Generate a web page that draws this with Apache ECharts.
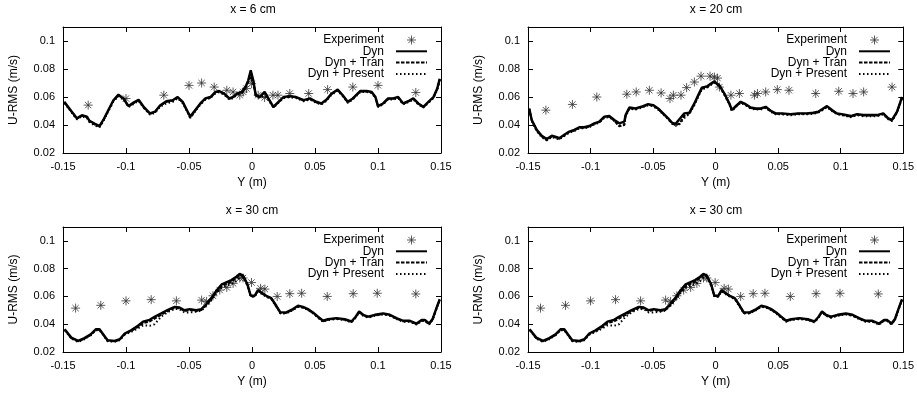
<!DOCTYPE html>
<html>
<head>
<meta charset="utf-8">
<script src="https://cdn.jsdelivr.net/npm/echarts@6/dist/echarts.min.js"></script>
<style>html,body{margin:0;padding:0;background:#fff}#c{width:917px;height:396px}</style>
</head>
<body>
<div id="c"></div>
<script>
// ---------- Data ----------
const panelTitles = ['x = 6 cm', 'x = 20 cm', 'x = 30 cm', 'x = 30 cm'];
const xTicks = [-0.15, -0.1, -0.05, 0, 0.05, 0.1, 0.15];
const yTicks = [0.02, 0.04, 0.06, 0.08, 0.1];
const seriesNames = ['Experiment', 'Dyn', 'Dyn + Tran', 'Dyn + Present'];

// Panel 1 : x = 6 cm
const p1Y = [-0.149,-0.143,-0.139,-0.135,-0.131,-0.129,-0.125,-0.121,-0.118,-0.114,-0.110,-0.106,-0.102,-0.098,-0.094,-0.090,-0.086,-0.081,-0.077,-0.073,-0.068,-0.063,-0.059,-0.055,-0.051,-0.049,-0.045,-0.041,-0.037,-0.033,-0.029,-0.026,-0.022,-0.018,-0.015,-0.012,-0.008,-0.005,-0.003,-0.001,0.001,0.003,0.006,0.010,0.013,0.017,0.021,0.025,0.030,0.035,0.041,0.046,0.051,0.055,0.059,0.063,0.068,0.072,0.076,0.080,0.086,0.091,0.095,0.098,0.100,0.104,0.108,0.112,0.116,0.120,0.124,0.128,0.132,0.136,0.140,0.144,0.147,0.149];
const p1Dyn = [0.0566,0.0495,0.0448,0.047,0.046,0.043,0.041,0.0393,0.0436,0.0507,0.0577,0.0617,0.059,0.0535,0.056,0.058,0.053,0.0483,0.0495,0.054,0.057,0.0577,0.060,0.0566,0.0495,0.046,0.0507,0.0554,0.059,0.060,0.0636,0.0643,0.0624,0.059,0.060,0.0624,0.0636,0.0676,0.0719,0.079,0.0719,0.0613,0.060,0.0636,0.059,0.053,0.0566,0.060,0.0606,0.060,0.0577,0.059,0.0566,0.0554,0.058,0.0624,0.0653,0.0613,0.0566,0.059,0.0643,0.0643,0.0636,0.060,0.0535,0.0554,0.059,0.059,0.060,0.0554,0.057,0.059,0.0554,0.053,0.0566,0.060,0.066,0.073];
const p1Tran = [0.0562,0.0492,0.0445,0.0466,0.0456,0.0427,0.0405,0.0388,0.0432,0.0503,0.0573,0.0612,0.0587,0.0532,0.0556,0.0577,0.0527,0.048,0.0492,0.0537,0.0566,0.0574,0.0597,0.0562,0.049,0.045,0.0503,0.0551,0.0587,0.0597,0.0632,0.064,0.0621,0.0587,0.0597,0.0621,0.0633,0.0672,0.0712,0.075,0.071,0.061,0.0597,0.0632,0.0587,0.0527,0.0562,0.0597,0.0603,0.0597,0.0574,0.0587,0.0562,0.0551,0.0577,0.062,0.065,0.061,0.0562,0.0587,0.064,0.064,0.0632,0.0597,0.0532,0.0551,0.0587,0.0587,0.0597,0.0551,0.0567,0.0587,0.0551,0.0527,0.0562,0.0597,0.0656,0.0726];
const p1Present = [0.0558,0.0488,0.044,0.0462,0.045,0.042,0.0398,0.0385,0.0428,0.0498,0.0568,0.0606,0.058,0.0528,0.055,0.0572,0.0522,0.0475,0.0486,0.053,0.0555,0.0565,0.059,0.0556,0.0487,0.0452,0.0498,0.0546,0.058,0.0592,0.0626,0.0634,0.0616,0.0582,0.0592,0.0616,0.0628,0.0665,0.0702,0.072,0.0705,0.0606,0.0594,0.061,0.058,0.0524,0.0558,0.0592,0.0598,0.0592,0.057,0.0582,0.0558,0.0547,0.0572,0.0615,0.0645,0.0606,0.0558,0.0582,0.0636,0.0636,0.0628,0.0592,0.0528,0.0547,0.0582,0.0582,0.0592,0.0547,0.0563,0.0582,0.0547,0.0524,0.0558,0.0592,0.0652,0.0722];
const p1ExpY = [-0.13,-0.10,-0.07,-0.05,-0.04,-0.03,-0.02,-0.015,-0.0097,-0.007,-0.0044,-0.0003,0.0049,0.010,0.0166,0.0206,0.030,0.045,0.060,0.080,0.100,0.130];
const p1ExpU = [0.0542,0.0589,0.0613,0.0683,0.070,0.0671,0.0648,0.0636,0.0613,0.0636,0.066,0.0695,0.0613,0.0596,0.0613,0.0613,0.0625,0.0625,0.0653,0.0671,0.0683,0.0632];

// Panel 2 : x = 20 cm
const p2Y = [-0.149,-0.147,-0.143,-0.139,-0.135,-0.131,-0.127,-0.125,-0.121,-0.117,-0.113,-0.109,-0.105,-0.101,-0.097,-0.093,-0.089,-0.085,-0.081,-0.077,-0.073,-0.072,-0.069,-0.064,-0.058,-0.054,-0.050,-0.046,-0.042,-0.038,-0.035,-0.032,-0.029,-0.025,-0.021,-0.017,-0.014,-0.011,-0.007,-0.004,-0.001,0.003,0.007,0.011,0.013,0.016,0.020,0.024,0.028,0.032,0.036,0.040,0.044,0.048,0.053,0.060,0.066,0.073,0.078,0.082,0.086,0.089,0.093,0.097,0.102,0.108,0.113,0.118,0.123,0.129,0.134,0.138,0.141,0.145,0.149];
const p2Dyn = [0.0518,0.0436,0.0365,0.0323,0.030,0.0323,0.0313,0.0306,0.033,0.0353,0.0365,0.0384,0.0384,0.0393,0.0412,0.0424,0.046,0.0464,0.0436,0.0412,0.0424,0.0471,0.0525,0.0518,0.0535,0.0549,0.0542,0.0518,0.0483,0.0448,0.0417,0.0408,0.0441,0.0483,0.0488,0.0554,0.0613,0.0667,0.0676,0.0695,0.0712,0.0683,0.0624,0.0554,0.0507,0.0535,0.0566,0.0549,0.0525,0.0518,0.0518,0.053,0.0502,0.0483,0.0483,0.0478,0.0483,0.0483,0.0488,0.0495,0.0518,0.0535,0.0507,0.0483,0.0476,0.0464,0.0478,0.0471,0.0471,0.0471,0.0483,0.0448,0.0436,0.0495,0.060];
const p2Tran = [0.0515,0.0432,0.036,0.0318,0.0292,0.0318,0.0308,0.0302,0.0326,0.035,0.0361,0.038,0.038,0.0389,0.0408,0.042,0.0456,0.046,0.043,0.039,0.040,0.0465,0.052,0.0514,0.0531,0.0545,0.0538,0.0514,0.048,0.0446,0.0414,0.0398,0.041,0.0465,0.0484,0.0548,0.0606,0.066,0.067,0.069,0.0706,0.0678,0.062,0.055,0.0504,0.0531,0.0562,0.0545,0.0521,0.0514,0.0514,0.0526,0.0498,0.048,0.048,0.0474,0.048,0.048,0.0484,0.0491,0.0514,0.0531,0.0503,0.048,0.0472,0.046,0.0474,0.0467,0.0467,0.0467,0.048,0.0444,0.0432,0.0492,0.0596];
const p2Present = [0.051,0.0428,0.0356,0.0312,0.029,0.0314,0.0302,0.0298,0.0321,0.0345,0.0357,0.0376,0.0376,0.0385,0.0404,0.0416,0.0452,0.0456,0.0428,0.0395,0.0405,0.046,0.0516,0.051,0.0527,0.0541,0.0534,0.051,0.0476,0.0442,0.041,0.0395,0.0405,0.045,0.048,0.0542,0.06,0.0655,0.0665,0.0685,0.070,0.0674,0.0615,0.0546,0.05,0.0527,0.0558,0.0541,0.0517,0.051,0.051,0.0522,0.0494,0.0476,0.0476,0.047,0.0476,0.0476,0.048,0.0487,0.051,0.0527,0.0499,0.0476,0.0468,0.0456,0.047,0.0463,0.0463,0.0463,0.0476,0.044,0.0428,0.0488,0.0592];
const p2ExpY = [-0.1357,-0.1145,-0.095,-0.071,-0.0635,-0.053,-0.0436,-0.0365,-0.0338,-0.0277,-0.0232,-0.017,-0.0117,-0.0045,-0.001,0.0015,0.003,0.0122,0.019,0.031,0.0334,0.040,0.0493,0.0586,0.080,0.0984,0.1098,0.1183,0.141];
const p2ExpU = [0.0506,0.0547,0.060,0.062,0.0636,0.0648,0.0629,0.0589,0.0613,0.0613,0.0667,0.0707,0.0749,0.0749,0.0742,0.0735,0.0671,0.0613,0.0625,0.0613,0.0625,0.0636,0.0653,0.0648,0.0625,0.0641,0.0625,0.0636,0.0671];

// Panel 3 & 4 : x = 30 cm
const p3Y = [-0.1487,-0.1434,-0.138,-0.133,-0.128,-0.124,-0.121,-0.118,-0.1146,-0.109,-0.105,-0.101,-0.096,-0.0905,-0.0865,-0.0812,-0.0773,-0.072,-0.0667,-0.0614,-0.0575,-0.0535,-0.0495,-0.0442,-0.0402,-0.0362,-0.0323,-0.0283,-0.0243,-0.0204,-0.0164,-0.0124,-0.0098,-0.0071,-0.0037,-0.001,0.0021,0.0047,0.0074,0.0113,0.0153,0.0193,0.0225,0.0272,0.0325,0.0365,0.0405,0.0444,0.0484,0.0524,0.0564,0.0603,0.067,0.0736,0.0789,0.0823,0.085,0.0882,0.0922,0.0975,0.1041,0.1094,0.1147,0.12,0.1253,0.1306,0.1346,0.1372,0.1406,0.1433,0.1465,0.149];
const p3Dyn = [0.0364,0.0304,0.028,0.030,0.0327,0.0364,0.0364,0.0327,0.0285,0.028,0.0292,0.0333,0.0357,0.0389,0.0418,0.0432,0.0454,0.0478,0.0504,0.0525,0.052,0.0501,0.0509,0.0501,0.0509,0.0545,0.0588,0.0641,0.0685,0.0702,0.0718,0.0742,0.0762,0.075,0.069,0.0605,0.0605,0.0646,0.0629,0.0605,0.0588,0.0533,0.0485,0.0485,0.0509,0.0533,0.0525,0.0509,0.0485,0.0454,0.0425,0.0437,0.0444,0.0437,0.042,0.0454,0.0492,0.0468,0.0454,0.0468,0.0478,0.0468,0.0444,0.0425,0.0425,0.0405,0.043,0.043,0.0405,0.0437,0.052,0.058];
const p3Tran = [0.0361,0.030,0.0276,0.0296,0.0323,0.036,0.036,0.0323,0.0281,0.0276,0.0288,0.0329,0.0352,0.038,0.0408,0.042,0.044,0.0468,0.0496,0.0518,0.0514,0.0495,0.0503,0.0495,0.0503,0.0538,0.058,0.0632,0.0672,0.069,0.0705,0.0732,0.0755,0.0744,0.0685,0.0601,0.0601,0.0641,0.0625,0.0601,0.0584,0.0529,0.0481,0.0481,0.0505,0.0529,0.0521,0.0505,0.0481,0.045,0.0421,0.0433,0.044,0.0433,0.0416,0.045,0.0488,0.0464,0.045,0.0464,0.0474,0.0464,0.044,0.0421,0.0421,0.0401,0.0426,0.0426,0.0401,0.0433,0.0516,0.0576];
const p3Present = [0.0358,0.0297,0.0273,0.0292,0.032,0.0356,0.0356,0.032,0.0278,0.0273,0.0285,0.0325,0.0345,0.037,0.0392,0.0389,0.040,0.0455,0.0488,0.051,0.0508,0.0485,0.0485,0.049,0.0498,0.0532,0.0572,0.0622,0.066,0.0675,0.069,0.071,0.0735,0.0738,0.068,0.0598,0.0598,0.0636,0.062,0.0598,0.0581,0.0525,0.0478,0.0478,0.0502,0.0525,0.0518,0.0502,0.0478,0.0447,0.0418,0.043,0.0437,0.043,0.0413,0.0447,0.0485,0.0461,0.0447,0.0461,0.0471,0.0461,0.0437,0.0418,0.0418,0.0398,0.0423,0.0423,0.0398,0.043,0.0512,0.0572];
const p3ExpY = [-0.14,-0.12,-0.10,-0.08,-0.06,-0.04,-0.036,-0.031,-0.0256,-0.02,-0.015,-0.0097,-0.0071,-0.0004,0.0068,0.0102,0.020,0.030,0.0394,0.0597,0.0803,0.0994,0.130];
const p3ExpU = [0.0516,0.0536,0.0568,0.0577,0.0568,0.0574,0.0564,0.0605,0.0646,0.0665,0.0694,0.0733,0.0733,0.070,0.0658,0.0653,0.060,0.062,0.0623,0.060,0.062,0.0623,0.0618];

const panels = [
  {y: p1Y, dyn: p1Dyn, tran: p1Tran, present: p1Present, ey: p1ExpY, eu: p1ExpU},
  {y: p2Y, dyn: p2Dyn, tran: p2Tran, present: p2Present, ey: p2ExpY, eu: p2ExpU},
  {y: p3Y, dyn: p3Dyn, tran: p3Tran, present: p3Present, ey: p3ExpY, eu: p3ExpU},
  {y: p3Y, dyn: p3Dyn, tran: p3Tran, present: p3Present, ey: p3ExpY, eu: p3ExpU}
];

// ---------- Layout ----------
const FONT = '"Liberation Sans", Arial, Helvetica, sans-serif';
const grids = [
  {left: 63, top: 27, width: 378, height: 126},
  {left: 528, top: 27, width: 377, height: 126},
  {left: 63, top: 227, width: 378, height: 125},
  {left: 528, top: 227, width: 377, height: 125}
];
const titlePos = [[253, 4], [716, 4], [252, 205], [716, 205]];
const legendPos = [[489, 34], [26, 34], [489, 234], [26, 234]];
const STAR = 'path://M0,5L10,5M5,0L5,10M1.5,1.5L8.5,8.5M8.5,1.5L1.5,8.5';
const HIDE = 'rgba(0,0,0,0)';

const xAxes = [], yAxes = [], series = [], titles = [], legends = [];
const pair = (a, b) => a.map((v, i) => [v, b[i]]);

grids.forEach((g, i) => {
  const lbl = {color: '#000', fontSize: 11, fontFamily: FONT};
  const nameStyle = {color: '#000', fontSize: 12, fontFamily: FONT};
  const line = {show: true, onZero: false, lineStyle: {color: '#000', width: 1}};
  const tick = {show: true, inside: true, length: 5, lineStyle: {color: '#000'}};
  xAxes.push({
    type: 'value', gridIndex: i, position: 'bottom', min: -0.15, max: 0.15, interval: 0.05,
    name: 'Y (m)', nameLocation: 'middle', nameGap: 24, nameTextStyle: nameStyle,
    axisLine: line, axisTick: tick,
    axisLabel: Object.assign({margin: 8, formatter: v => String(+v.toFixed(2))}, lbl),
    splitLine: {show: false}
  });
  xAxes.push({
    type: 'value', gridIndex: i, position: 'top', min: -0.15, max: 0.15, interval: 0.05,
    axisLine: line, axisTick: tick,
    axisLabel: {show: false}, splitLine: {show: false}
  });
  yAxes.push({
    type: 'value', gridIndex: i, position: 'left', min: 0.02, max: 0.11, interval: 0.02,
    name: 'U-RMS (m/s)', nameLocation: 'middle', nameGap: 43, nameTextStyle: nameStyle,
    axisLine: line, axisTick: tick,
    axisLabel: Object.assign({margin: 8, showMaxLabel: false,
      formatter: v => (Math.abs(v - 0.11) < 1e-6 ? '' : String(+v.toFixed(2)))}, lbl),
    splitLine: {show: false}
  });
  yAxes.push({
    type: 'value', gridIndex: i, position: 'right', min: 0.02, max: 0.11, interval: 0.02,
    axisLine: line, axisTick: tick,
    axisLabel: {show: false}, splitLine: {show: false}
  });
  titles.push({
    text: panelTitles[i], left: titlePos[i][0], top: titlePos[i][1], textAlign: 'center', padding: 0,
    textStyle: {color: '#000', fontSize: 12, fontWeight: 'normal', fontFamily: FONT}
  });
  legends.push({
    data: [
      {name: seriesNames[0], icon: STAR, itemStyle: {color: HIDE, borderColor: '#333', borderWidth: 1}},
      {name: seriesNames[1]}, {name: seriesNames[2]}, {name: seriesNames[3]}
    ],
    orient: 'vertical', right: legendPos[i][0], top: legendPos[i][1],
    align: 'right', itemWidth: 31, itemHeight: 9, itemGap: -0.7, padding: 0,
    selectedMode: false,
    textStyle: {color: '#000', fontSize: 12, fontFamily: FONT, lineHeight: 10, padding: [0, 7, 0, 0]}
  });
  const p = panels[i];
  const xi = i * 2, yi = i * 2;
  series.push({
    name: seriesNames[0], type: 'scatter', xAxisIndex: xi, yAxisIndex: yi,
    data: pair(p.ey, p.eu), symbol: STAR, symbolSize: 9,
    itemStyle: {color: HIDE, borderColor: '#333', borderWidth: 1}
  });
  series.push({
    name: seriesNames[1], type: 'line', xAxisIndex: xi, yAxisIndex: yi,
    data: pair(p.y, p.dyn), symbol: 'none', showSymbol: false,
    lineStyle: {color: '#000', width: 2.4}, itemStyle: {color: HIDE, borderWidth: 0}
  });
  series.push({
    name: seriesNames[2], type: 'line', xAxisIndex: xi, yAxisIndex: yi,
    data: pair(p.y, p.tran), symbol: 'none', showSymbol: false,
    lineStyle: {color: '#000', width: 2, type: [3.5, 1.5]}, itemStyle: {color: HIDE, borderWidth: 0}
  });
  series.push({
    name: seriesNames[3], type: 'line', xAxisIndex: xi, yAxisIndex: yi,
    data: pair(p.y, p.present), symbol: 'none', showSymbol: false,
    lineStyle: {color: '#000', width: 2, type: [1.5, 2.5]}, itemStyle: {color: HIDE, borderWidth: 0}
  });
});

const chart = echarts.init(document.getElementById('c'), null, {renderer: 'canvas'});
chart.setOption({
  animation: false,
  backgroundColor: '#fff',
  title: titles,
  legend: legends,
  grid: grids.map(g => Object.assign({containLabel: false}, g)),
  xAxis: xAxes,
  yAxis: yAxes,
  series: series
});
</script>
</body>
</html>
